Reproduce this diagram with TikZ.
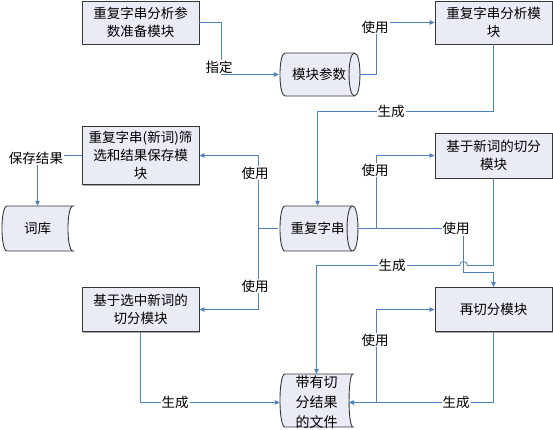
\documentclass[tikz,border=0pt]{standalone}
\usepackage{fontspec}
\setmainfont{Noto Sans CJK SC}
\usetikzlibrary{arrows.meta,shadows}
\definecolor{boxfill}{RGB}{233,236,245}
\definecolor{linkblue}{RGB}{79,129,189}
\definecolor{boxline}{RGB}{55,55,55}
\begin{document}
\begin{tikzpicture}[x=1pt,y=-1pt,
  txt/.style={font={\fontsize{13.5pt}{18pt}\selectfont}, align=center},
  modbox/.style={txt, draw=boxline, fill=boxfill, line width=0.9pt, minimum width=117pt, inner sep=0pt,
    drop shadow={shadow xshift=1pt, shadow yshift=-1pt, fill=black!35, opacity=1}},
  storetext/.style={txt, inner sep=0pt},
  shapeline/.style={draw=boxline, fill=boxfill, line width=0.9pt},
  lbl/.style={txt, fill=white, inner sep=1pt},
  link/.style={draw=linkblue, line width=0.8pt},
  arr/.style={link, -{Triangle[length=5pt,width=4.5pt]}}
]
\useasboundingbox (0,0) rectangle (553,429);

% ---- module boxes
\node[modbox, minimum height=43pt] (A) at (140.5,22.5) {重复字串分析参\\数准备模块};
\node[modbox, minimum height=43pt] (B) at (493.5,22.5) {重复字串分析模\\块};
\node[modbox, minimum height=58pt] (C) at (140.5,155.5) {重复字串(新词)筛\\选和结果保存模\\块};
\node[modbox, minimum height=45pt] (D) at (493.5,155.5) {基于新词的切分\\模块};
\node[modbox, minimum height=44pt] (E) at (140.5,309.5) {基于选中新词的\\切分模块};
\node[modbox, minimum height=44pt] (F) at (493.5,309.5) {再切分模块};

% ---- cylinder 模块参数 (x 280-360, y 53-96)
\path[shapeline] (285,53) -- (354.5,53) .. controls (361.8,53) and (361.8,96) .. (354.5,96)
  -- (285,96) .. controls (278.3,96) and (278.3,53) .. (285,53) -- cycle;
\draw[draw=boxline, line width=0.9pt] (354.5,53) .. controls (347.2,53) and (347.2,96) .. (354.5,96);
\node[storetext, minimum width=80pt, minimum height=43pt] (cyl1) at (319,74.5) {模块参数};

% ---- cylinder 重复字串 (x 280-358, y 206-251)
\path[shapeline] (285,206) -- (352.5,206) .. controls (359.8,206) and (359.8,251) .. (352.5,251)
  -- (285,251) .. controls (278.3,251) and (278.3,206) .. (285,206) -- cycle;
\draw[draw=boxline, line width=0.9pt] (352.5,206) .. controls (345.2,206) and (345.2,251) .. (352.5,251);
\node[storetext, minimum width=78pt, minimum height=45pt] (cyl2) at (317.5,228.5) {重复字串};

% ---- stored data 词库 (x 2-73, y 206-251)
\path[shapeline] (7,206) -- (73,206) .. controls (66.3,206) and (66.3,251) .. (73,251)
  -- (7,251) .. controls (0.3,251) and (0.3,206) .. (7,206) -- cycle;
\node[storetext, minimum width=71pt, minimum height=45pt] (ciku) at (37.5,228.5) {词库};

% ---- stored data 带有切分结果的文件 (x 280-353, y 374-427)
\path[shapeline] (285,374) -- (353,374) .. controls (347.7,374) and (347.7,427) .. (353,427)
  -- (285,427) .. controls (278.3,427) and (278.3,374) .. (285,374) -- cycle;
\node[storetext, font={\fontsize{14pt}{20pt}\selectfont}, minimum width=73pt, minimum height=57pt] (doc) at (316.5,402.5) {带有切\\分结果\\的文件};

% ---- connectors
\draw[arr] (A.east) -- (221.5,22.5) -- (221.5,74.5) -- (cyl1.west);
\draw[arr] (cyl1.east) -- (376.5,74.5) -- (376.5,22.5) -- (B.west);
\draw[arr] (B.south) -- (B.south |- 0,111.5) -| (cyl2.north);
\draw[arr] (cyl2.west) -- (258.5,228.5) |- (C.east);
\coordinate (splitL) at (258.5,228.5);
\draw[arr] (splitL) |- (E.east);
\draw[arr] (cyl2.east) -- (463.5,228.5) -- (463.5,272.5) -| (F.north);
\coordinate (splitR) at (376.5,228.5);
\draw[arr] (splitR) |- (D.west);
\draw[arr] (D.south) -- (493.5,265.5) -- (467.5,265.5) .. controls (467.5,260.2) and (459.5,260.2) .. (459.5,265.5)
  -- (doc.north |- 0,265.5) -- (doc.north);
\draw[arr] (E.south) |- (doc.west);
\coordinate (docE) at (349,402.5);
\draw[arr] (F.south) |- (docE);
\coordinate (splitB) at (376.5,402.5);
\draw[arr] (splitB) |- (F.west);
\draw[arr] (C.west) -| (ciku.north);

% ---- connector labels
\node[lbl] (l1) at (219,67) {指定};
\node[lbl] (l2) at (375,27) {使用};
\node[lbl] (l3) at (391,111.5) {生成};
\node[lbl] (l4) at (255,173) {使用};
\node[lbl] (l5) at (255,286) {使用};
\node[lbl] (l6) at (456,228.5) {使用};
\node[lbl] (l7) at (375,170) {使用};
\node[lbl] (l8) at (392,265.5) {生成};
\node[lbl] (l9) at (175,402.5) {生成};
\node[lbl] (l10) at (456,402.5) {生成};
\node[lbl] (l11) at (375,340) {使用};
\node[lbl] (l12) at (36,158) {保存结果};
\end{tikzpicture}
\end{document}
